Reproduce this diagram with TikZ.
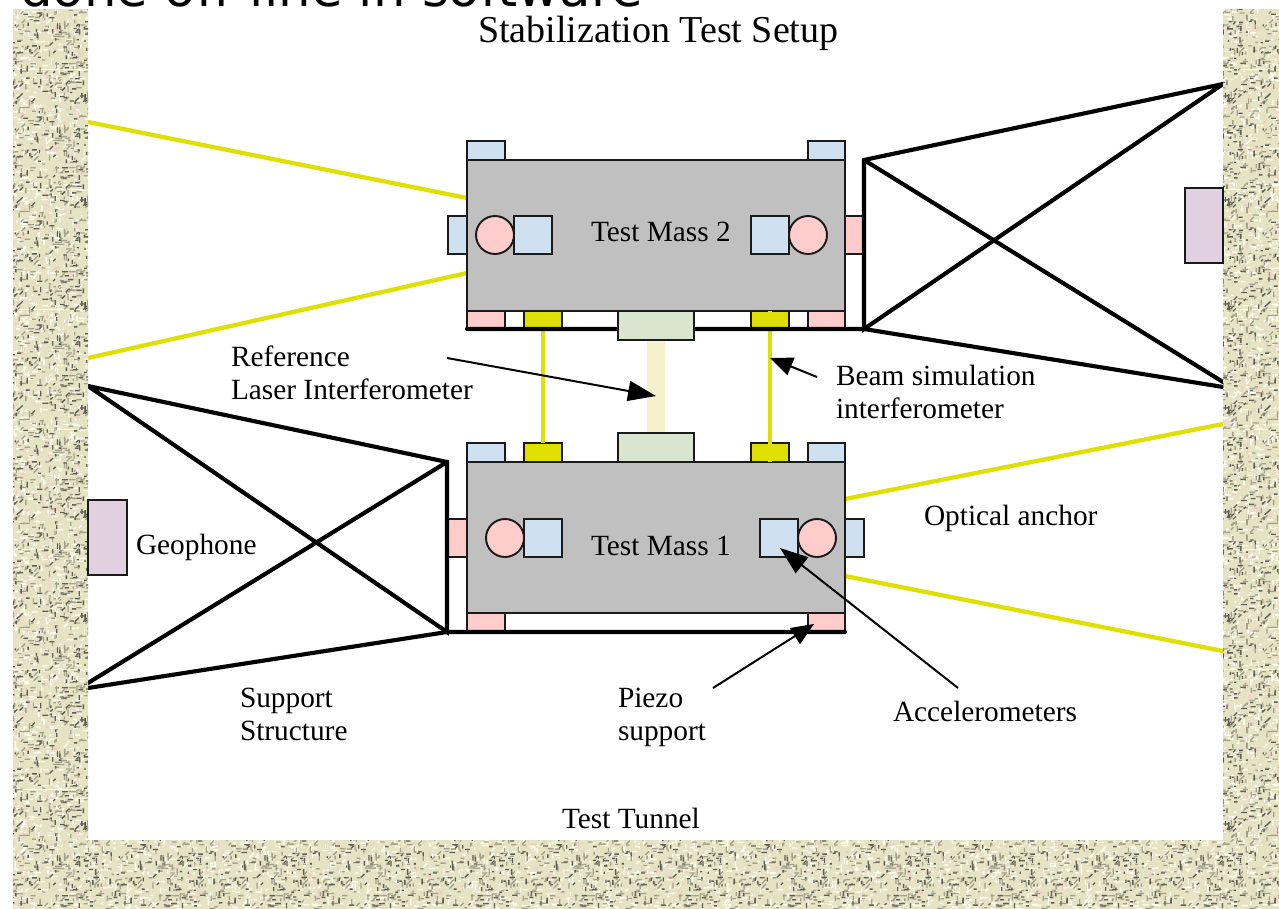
\documentclass[tikz,border=0pt]{standalone}
\usepackage{fontspec}
\setmainfont{Liberation Serif}
\newfontfamily\topfont{DejaVu Sans}[Scale=1]
\usetikzlibrary{arrows.meta,patterns}
\definecolor{massgrey}{HTML}{C0C0C0}
\definecolor{tabblue}{HTML}{CFE0F0}
\definecolor{tabpink}{HTML}{FFCCCC}
\definecolor{tabgreen}{HTML}{D9E6CF}
\definecolor{tabpurple}{HTML}{E0D0E0}
\definecolor{beamyellow}{HTML}{DFDF00}
\definecolor{beampale}{HTML}{F6F1CB}
\definecolor{inkdark}{HTML}{1A1A1A}
\definecolor{stbase}{HTML}{E6E3C4}
\definecolor{stdark}{HTML}{5E5E52}
\definecolor{stmid}{HTML}{A3A18A}
\definecolor{stlight}{HTML}{FFFFF2}
\definecolor{stpink}{HTML}{EBCFC4}
\newcommand{\stuccostrokes}[4]{%
  \foreach \i in {1,...,#2}{%
    \pgfmathsetmacro\xa{rnd*#4}\pgfmathsetmacro\ya{rnd*#4}%
    \pgfmathsetmacro\ang{int(random(0,5))}%
    \pgfmathsetmacro\dirn{\ang<3?0:(\ang<4?45:90)}%
    \pgfmathsetmacro\lena{1.5+rnd*#3}%
    \pgfsetstrokecolor{#1}\pgfsetlinewidth{1pt}%
    \pgfpathmoveto{\pgfpoint{\xa pt}{\ya pt}}%
    \pgfpathlineto{\pgfpointadd{\pgfpoint{\xa pt}{\ya pt}}{\pgfpointpolar{\dirn}{\lena pt}}}%
    \pgfusepath{stroke}%
  }}
\pgfdeclarepatterninherentlycolored{stuccolight}{\pgfpointorigin}{\pgfpoint{90pt}{90pt}}{\pgfpoint{90pt}{90pt}}{%
  \pgfsetfillcolor{stbase}%
  \pgfpathrectangle{\pgfpointorigin}{\pgfpoint{90pt}{90pt}}\pgfusepath{fill}%
  \pgfmathsetseed{4242}%
  \stuccostrokes{stlight}{360}{3.5}{90}%
  \stuccostrokes{stpink}{130}{2.5}{90}%
}
\pgfdeclarepatterninherentlycolored{stuccodark}{\pgfpointorigin}{\pgfpoint{78pt}{78pt}}{\pgfpoint{78pt}{78pt}}{%
  \pgfmathsetseed{1717}%
  \stuccostrokes{stmid}{200}{3.5}{78}%
  \stuccostrokes{stdark}{140}{3}{78}%
}
\tikzset{
  x=0.75pt,y=-0.75pt,
  part/.style={draw=inkdark,line width=1.45pt,inner sep=0pt,outer sep=0pt},
  massbody/.style={part,fill=massgrey},
  bluepart/.style={part,fill=tabblue},
  pinkpart/.style={part,fill=tabpink},
  greenpart/.style={part,fill=tabgreen},
  yellowpart/.style={part,fill=beamyellow},
  purplepart/.style={part,fill=tabpurple},
  sensor/.style={part,fill=tabpink,circle,minimum size=28.5pt},
  structure/.style={line width=3.1pt,draw=black,line cap=round},
  beamline/.style={line width=3.2pt,draw=beamyellow},
  pointer/.style={line width=1.5pt,draw=black,-{Triangle[length=21pt,width=15pt]}},
  pointersmall/.style={line width=1.5pt,draw=black,-{Triangle[length=17pt,width=14pt]}},
  lab/.style={inner sep=0pt,outer sep=0pt,text=black,align=left,font=\fontsize{22pt}{24.75pt}\selectfont},
}
\newcommand{\bx}[6]{\node[#6,minimum width={(#4-#2)*0.75pt},minimum height={(#5-#3)*0.75pt}] (#1) at ({(#2+#4)/2},{(#3+#5)/2}) {};}
\newcommand{\wall}[4]{%
  \fill[pattern=stuccolight] (#1,#2) rectangle (#3,#4);
  \fill[pattern=stuccodark] (#1,#2) rectangle (#3,#4);}
\begin{document}
\begin{tikzpicture}
\useasboundingbox (0,0) rectangle (1279,909);
\fill[white] (0,0) rectangle (1279,909);
% clipped heading at the very top
\begin{scope}
\clip (0,0) rectangle (1279,10);
\node[anchor=base west,inner sep=0pt,font=\topfont\fontsize{38.5pt}{44pt}\selectfont] (heading) at (20,7) {done off-line in software};
\end{scope}
\node[lab,anchor=base west,font=\fontsize{28.5pt}{32pt}\selectfont] (title) at (478,43) {Stabilization Test Setup};

% optical anchor lines
\coordinate (ol1) at (88,122); \coordinate (ol2) at (88,358);
\coordinate (or1) at (1223,424); \coordinate (or2) at (1223,651);
\coordinate (m2a) at (467,198); \coordinate (m2b) at (467,273);
\coordinate (m1a) at (845,499); \coordinate (m1b) at (845,576);
\draw[beamline] (ol1) -- (m2a);
\draw[beamline] (ol2) -- (m2b);
\draw[beamline] (or1) -- (m1a);
\draw[beamline] (or2) -- (m1b);

% reference beam
\bx{bm}{647}{340}{665}{433}{fill=beampale,inner sep=0pt,outer sep=0pt}

% test mass 2
\bx{t2a}{467}{141}{505}{160}{bluepart}
\bx{t2b}{808}{141}{845}{160}{bluepart}
\bx{t2l}{448}{216}{467}{254}{bluepart}
\bx{t2r}{845}{216}{864}{254}{pinkpart}
\bx{p2a}{467}{311}{505}{329}{pinkpart}
\bx{p2b}{808}{311}{845}{329}{pinkpart}
\bx{y2a}{524}{311}{562}{329}{yellowpart}
\bx{y2b}{751}{311}{789}{329}{yellowpart}
\bx{mass2}{467}{160}{845}{311}{massbody}
\node[sensor] (c2a) at (495,235) {};
\node[sensor] (c2b) at (808,235) {};
\bx{s2a}{514}{216}{552}{254}{bluepart}
\bx{s2b}{751}{216}{789}{254}{bluepart}

% test mass 1
\bx{t1a}{467}{443}{505}{462}{bluepart}
\bx{t1b}{808}{443}{845}{462}{bluepart}
\bx{t1l}{448}{519}{467}{557}{pinkpart}
\bx{t1r}{845}{519}{864}{557}{bluepart}
\bx{p1a}{467}{613}{505}{632}{pinkpart}
\bx{p1b}{808}{613}{845}{632}{pinkpart}
\bx{y1a}{524}{443}{562}{462}{yellowpart}
\bx{y1b}{751}{443}{789}{462}{yellowpart}
\bx{mass1}{467}{462}{845}{613}{massbody}
\bx{g1}{618}{433}{694}{462}{greenpart}
\node[sensor] (c1a) at (505,538) {};
\node[sensor] (c1b) at (817,538) {};
\bx{s1a}{524}{519}{562}{557}{bluepart}
\bx{s1b}{760}{519}{798}{557}{bluepart}

% beam simulation beams
\draw[beamline] (y2a.south) -- (y1a.north);
\draw[beamline] (y2b.north) -- (y1b.south);

% support structure, upper
\coordinate (su1) at (864,160); \coordinate (su2) at (864,329);
\coordinate (su3) at (1223,84); \coordinate (su4) at (1223,382);
\coordinate (su4b) at (1223,387);
\coordinate (su5) at (467,329);
\draw[structure] (su3) -- (su1) -- (su2) -- (su3);
\draw[structure] (su1) -- (su4);
\draw[structure] (su4b) -- (su2) -- (su5);
% support structure, lower
\coordinate (sl1) at (447,462); \coordinate (sl2) at (447,632);
\coordinate (sl3) at (88,386); \coordinate (sl4) at (88,683);
\coordinate (sl4b) at (88,688);
\coordinate (sl5) at (845,632);
\draw[structure] (sl3) -- (sl1) -- (sl2) -- (sl3);
\draw[structure] (sl1) -- (sl4);
\draw[structure] (sl4b) -- (sl2) -- (sl5);
\bx{g2}{618}{311}{694}{340}{greenpart}

% textured wall
\wall{13}{10}{88}{909}
\wall{88}{840}{1279}{909}
\wall{1223}{10}{1279}{840}

% geophones
\bx{geo2}{1185}{188}{1223}{263}{purplepart}
\bx{geo1}{88}{500}{127}{575}{purplepart}

% labels
\node[lab,anchor=base west] (ltm2) at (591,242) {Test Mass 2};
\node[lab,anchor=base west] (ltm1) at (591,555) {Test Mass 1};
\node[lab,anchor=base west] (lgeo) at (136,554) {Geophone};
\node[lab,anchor=base west] (lopt) at (924,525) {Optical anchor};
\node[lab,anchor=base west] (lacc) at (893,721) {Accelerometers};
\node[lab,anchor=base west] (ltun) at (562,828) {Test Tunnel};
\node[lab,anchor=west] (lref) at (231,373) {Reference\\Laser Interferometer};
\node[lab,anchor=west] (lbeam) at (836,392) {Beam simulation\\interferometer};
\node[lab,anchor=west] (lsup) at (240,714) {Support\\Structure};
\node[lab,anchor=west] (lpie) at (618,717) {Piezo\\support};

% pointers
\coordinate (aref) at (447,358); \coordinate (trefb) at (656,396);
\coordinate (abeam) at (817,377); \coordinate (tbeam) at (770,358);
\coordinate (apie) at (713,688); \coordinate (tpie) at (814,624);
\coordinate (aacc) at (958,688); \coordinate (tacc) at (780,548);
\draw[pointer] (aref) -- (trefb);
\draw[pointersmall] (abeam) -- (tbeam);
\draw[pointersmall] (apie) -- (tpie);
\draw[pointer] (aacc) -- (tacc);
\end{tikzpicture}
\end{document}
